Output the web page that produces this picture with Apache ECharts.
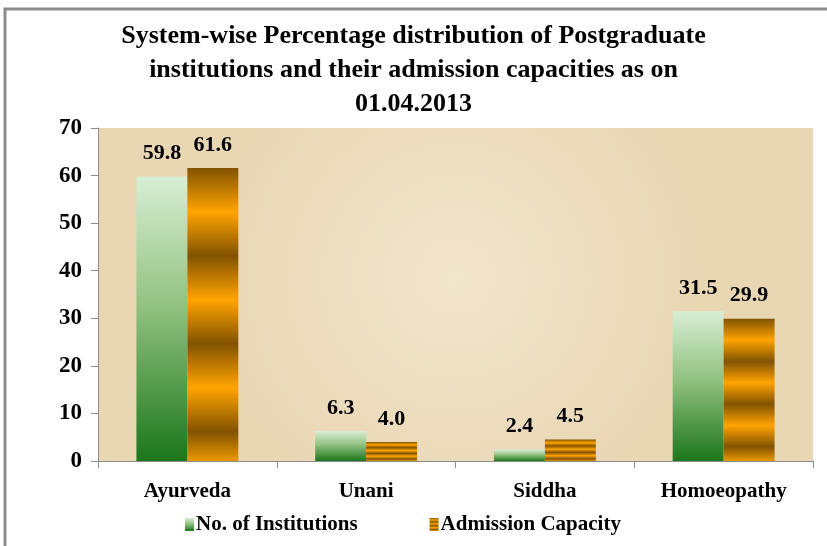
<!DOCTYPE html>
<html>
<head>
<meta charset="utf-8">
<script src="https://cdn.jsdelivr.net/npm/echarts@6/dist/echarts.min.js"></script>
<style>
html,body{margin:0;padding:0;background:#fff;}
#c{width:827px;height:546px;}
</style>
</head>
<body>
<div id="c"></div>
<script>
const categories = ['Ayurveda', 'Unani', 'Siddha', 'Homoeopathy'];
const institutions = [59.8, 6.3, 2.4, 31.5];
const admissionCapacity = [61.6, 4.0, 4.5, 29.9];
const seriesNames = ['No. of Institutions', 'Admission Capacity'];
const yTicks = { min: 0, max: 70, interval: 10 };
const titleText = 'System-wise Percentage distribution of Postgraduate\ninstitutions and their admission capacities as on\n01.04.2013';

const FONT = '"Liberation Serif", "Times New Roman", serif';

const greenGrad = new echarts.graphic.LinearGradient(0, 0, 0, 1, [
  { offset: 0, color: '#d8eed4' },
  { offset: 0.45, color: '#93c282' },
  { offset: 1, color: '#1c761c' }
]);
const dark = '#825300', gold = '#ffa400';
const orangeGrad = new echarts.graphic.LinearGradient(0, 0, 0, 1, [
  { offset: 0, color: dark },
  { offset: 0.15, color: gold },
  { offset: 0.3, color: dark },
  { offset: 0.45, color: gold },
  { offset: 0.6, color: dark },
  { offset: 0.75, color: gold },
  { offset: 0.9, color: dark },
  { offset: 1, color: '#e99800' }
]);

const labelStyle = {
  show: true,
  position: 'top',
  distance: 12,
  fontFamily: FONT,
  fontWeight: 'bold',
  fontSize: 22,
  color: '#000',
  formatter: p => p.value.toFixed(1)
};

const chart = echarts.init(document.getElementById('c'), null, { renderer: 'canvas' });
chart.setOption({
  backgroundColor: '#ffffff',
  animation: false,
  title: {
    text: titleText,
    left: 'center',
    top: 14,
    textStyle: {
      fontFamily: FONT,
      fontWeight: 'bold',
      fontSize: 26,
      lineHeight: 34,
      color: '#000'
    }
  },
  graphic: [{
    type: 'rect',
    shape: { x: 5, y: 9, width: 900, height: 700 },
    style: { fill: 'none', stroke: '#8c8c8c', lineWidth: 3 },
    silent: true
  }],
  grid: {
    left: 98, right: 14, top: 128, bottom: 85,
    show: true,
    borderWidth: 0,
    backgroundColor: new echarts.graphic.RadialGradient(0.5, 0.45, 0.75, [
      { offset: 0, color: '#f2e6cd' },
      { offset: 1, color: '#e9d6b3' }
    ])
  },
  legend: {
    left: 180,
    top: 509,
    itemGap: 72,
    itemWidth: 9,
    itemHeight: 13,
    icon: 'rect',
    textStyle: { fontFamily: FONT, fontWeight: 'bold', fontSize: 21, color: '#000', padding: [0, 0, 0, -3] },
    data: seriesNames
  },
  xAxis: {
    type: 'category',
    data: categories,
    axisLine: { lineStyle: { color: '#8c8c8c', width: 1 } },
    axisTick: { show: true, length: 7, lineStyle: { color: '#8c8c8c' } },
    axisLabel: { margin: 20, fontFamily: FONT, fontWeight: 'bold', fontSize: 21, color: '#000' }
  },
  yAxis: {
    type: 'value',
    min: yTicks.min, max: yTicks.max, interval: yTicks.interval,
    axisLine: { show: true, lineStyle: { color: '#8c8c8c', width: 1 } },
    axisTick: { show: true, length: 7, lineStyle: { color: '#8c8c8c' } },
    splitLine: { show: false },
    axisLabel: { margin: 16, fontFamily: FONT, fontWeight: 'bold', fontSize: 23, color: '#000' }
  },
  series: [
    {
      name: seriesNames[0], type: 'bar', data: institutions,
      barWidth: '28.5%', barGap: '0%',
      itemStyle: { color: greenGrad },
      label: labelStyle
    },
    {
      name: seriesNames[1], type: 'bar', data: admissionCapacity,
      barWidth: '28.5%', barGap: '0%',
      itemStyle: { color: orangeGrad },
      label: labelStyle
    }
  ]
});
</script>
</body>
</html>
